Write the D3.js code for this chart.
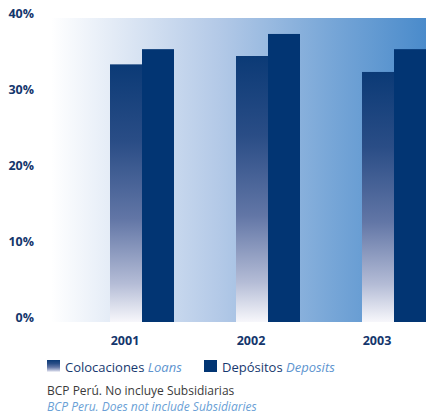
<!DOCTYPE html>
<html>
<head>
<meta charset="utf-8">
<script src="https://cdn.jsdelivr.net/npm/d3@7/dist/d3.min.js"></script>
<style>
  html, body { margin: 0; padding: 0; background: #ffffff; }
  svg { display: block; font-family: "Open Sans", sans-serif; }
</style>
</head>
<body>
<svg id="chart" width="426" height="417"></svg>
<script>
// Years and series (share, %)
const years = ["2001", "2002", "2003"];
const loans = [33.9, 35.0, 32.9];      // Colocaciones
const deposits = [35.9, 37.9, 35.9];   // Depósitos
const yTicks = [0, 10, 20, 30, 40];
const legendItems = [
  { es: "Colocaciones", en: "Loans" },
  { es: "Depósitos", en: "Deposits" }
];
const noteLines = ["BCP Perú. No incluye Subsidiarias", "BCP Peru. Does not include Subsidiaries"];

const svg = d3.select("#chart");
const plot = { left: 51, right: 426, top: 18, bottom: 322 };

const y = d3.scaleLinear().domain([0, 40]).range([plot.bottom, plot.top]);
const x = d3.scaleBand().domain(years).range([47, 425]).paddingInner(0).paddingOuter(0);
const barW = 32;

const defs = svg.append("defs");
const bg = defs.append("linearGradient").attr("id", "bgGrad")
  .attr("x1", "0%").attr("x2", "100%").attr("y1", "0%").attr("y2", "0%");
[[0, "#ffffff"], [0.45, "#b3c9e7"], [0.75, "#77a6d7"], [1, "#4a8bcb"]]
  .forEach(([o, c]) => bg.append("stop").attr("offset", o).attr("stop-color", c));

const lg = defs.append("linearGradient").attr("id", "loanGrad")
  .attr("x1", "0%").attr("x2", "0%").attr("y1", "0%").attr("y2", "100%");
[[0, "#0b3a76"], [0.3, "#2a4d86"], [0.6, "#6276a6"], [0.85, "#b4bcd6"], [1, "#f7f7fb"]]
  .forEach(([o, c]) => lg.append("stop").attr("offset", o).attr("stop-color", c));

// plot background
svg.append("rect")
  .attr("x", plot.left).attr("y", plot.top)
  .attr("width", plot.right - plot.left).attr("height", plot.bottom - plot.top)
  .attr("fill", "url(#bgGrad)");

// bars: loans on the left half of each pair, deposits on the right
const center = d => x(d) + x.bandwidth() / 2 + 32;

svg.append("g").selectAll("rect").data(years).join("rect")
  .attr("x", d => center(d) - barW)
  .attr("y", (d, i) => y(loans[i]))
  .attr("width", barW)
  .attr("height", (d, i) => y(0) - y(loans[i]))
  .attr("fill", "url(#loanGrad)");

svg.append("g").selectAll("rect").data(years).join("rect")
  .attr("x", d => center(d))
  .attr("y", (d, i) => y(deposits[i]))
  .attr("width", barW)
  .attr("height", (d, i) => y(0) - y(deposits[i]))
  .attr("fill", "#023573");

// y axis labels
const yAxis = d3.axisLeft(y).tickValues(yTicks).tickFormat(d => d + "%").tickSize(0).tickPadding(0);
const ya = svg.append("g").attr("transform", "translate(34,0)").call(yAxis);
ya.select(".domain").remove();
ya.selectAll("text")
  .attr("dy", "-0.05em")
  .attr("fill", "#14366c")
  .attr("font-weight", "bold")
  .attr("font-size", 12.5)
  .attr("font-family", "'Open Sans', sans-serif");

// x axis labels
const xAxis = d3.axisBottom(x).tickSize(0).tickPadding(0);
const xa = svg.append("g").attr("transform", "translate(0,336)").call(xAxis);
xa.select(".domain").remove();
xa.selectAll(".tick").attr("transform", d => `translate(${center(d) - barW + 15},0)`);
xa.selectAll("text")
  .attr("fill", "#14366c")
  .attr("font-weight", "bold")
  .attr("font-size", 12.5)
  .attr("font-family", "'Open Sans', sans-serif");

// legend
const legX = [47, 204];
const leg = svg.append("g").selectAll("g").data(legendItems).join("g")
  .attr("transform", (d, i) => `translate(${legX[i]},360)`);
leg.append("rect").attr("width", 13).attr("height", 12)
  .attr("fill", (d, i) => i === 0 ? "url(#loanGrad)" : "#023573");
const lt = leg.append("text").attr("x", 18).attr("y", 12).attr("font-size", 13);
lt.append("tspan").attr("fill", "#17396f").text(d => d.es + " ");
lt.append("tspan").attr("fill", "#5d94cf").attr("font-style", "italic").text(d => d.en);

// note
svg.append("g").selectAll("text").data(noteLines).join("text")
  .attr("x", 47).attr("y", (d, i) => 395 + i * 16)
  .attr("font-size", 12)
  .attr("fill", (d, i) => i === 0 ? "#3a3a3a" : "#6a9fd6")
  .attr("font-style", (d, i) => i === 0 ? "normal" : "italic")
  .text(d => d);
</script>
</body>
</html>
